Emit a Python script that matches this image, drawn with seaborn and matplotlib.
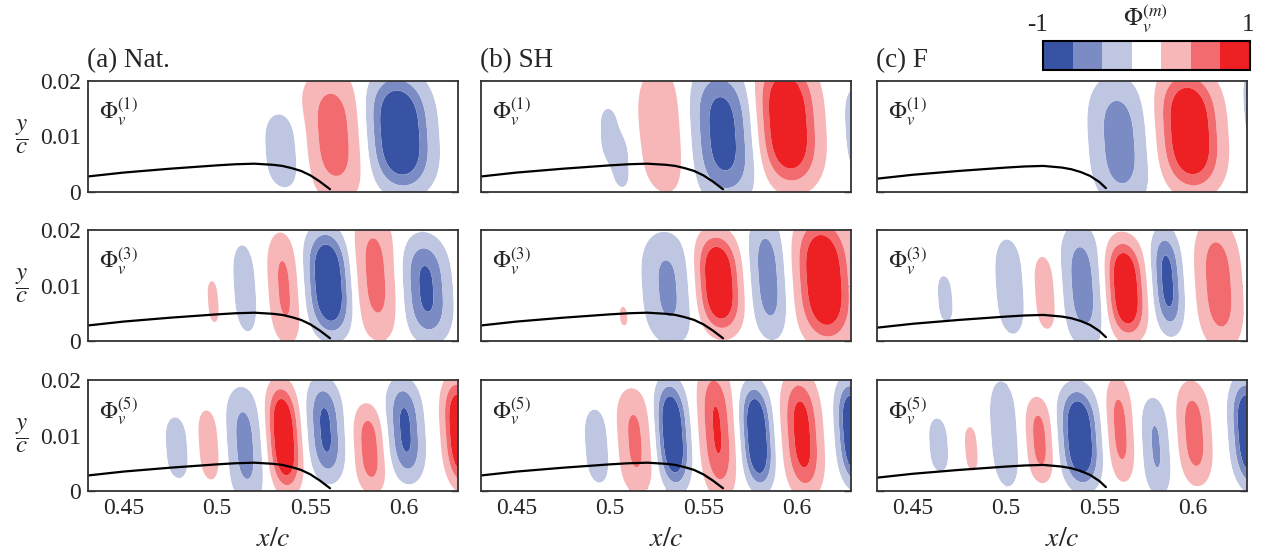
import numpy as np
import pandas as pd
import matplotlib
matplotlib.use("Agg")
import matplotlib.pyplot as plt
import matplotlib as mpl
from matplotlib.colors import ListedColormap, BoundaryNorm
from matplotlib.ticker import MultipleLocator, FixedLocator, FixedFormatter
import seaborn as sns

# ---------------- data ----------------
PANEL_TITLES = ["(a) Nat.", "(b) SH", "(c) F"]
MODE_LABELS = [r"$\Phi_v^{(1)}$", r"$\Phi_v^{(3)}$", r"$\Phi_v^{(5)}$"]
XTICKS = [0.45, 0.5, 0.55, 0.6]
XTICK_LABELS = ["0.45", "0.5", "0.55", "0.6"]
YTICKS = [0.0, 0.01, 0.02]
YTICK_LABELS = ["0", "0.01", "0.02"]
XLIM = (0.431, 0.629)
YLIM = (0.0, 0.02)

# contour levels and colours (7 bands from -1 to 1)
LEVELS = [-10, -5 / 7, -3 / 7, -1 / 7, 1 / 7, 3 / 7, 5 / 7, 10]
BAND_COLORS = ["#3953A4", "#7B8CC4", "#BEC6E2", "#FFFFFF",
               "#F7B6B8", "#F26B6F", "#ED2024"]

# wave-packet lobes of each mode: (x0, y0, sigma_x, sigma_y, amplitude)
NAT_1 = [(0.5358, 0.0075, 0.0080, 0.0060, -0.30),
         (0.5625, 0.0103, 0.0105, 0.0085, 0.60),
         (0.5977, 0.0107, 0.0103, 0.0075, -1.20),
         (0.6380, 0.0170, 0.0060, 0.0065, 0.40)]
NAT_3 = [(0.4980, 0.0071, 0.0033, 0.0042, 0.20),
         (0.5150, 0.0095, 0.0048, 0.0068, -0.30),
         (0.5360, 0.0095, 0.0055, 0.0074, 0.50),
         (0.5597, 0.0105, 0.0070, 0.0068, -1.20),
         (0.5848, 0.0118, 0.0075, 0.0085, 0.55),
         (0.6120, 0.0094, 0.0077, 0.0068, -0.80)]
NAT_5 = [(0.4786, 0.0078, 0.0047, 0.0048, -0.30),
         (0.4958, 0.0083, 0.0046, 0.0055, 0.30),
         (0.5150, 0.0082, 0.0062, 0.0076, -0.55),
         (0.5358, 0.0097, 0.0052, 0.0068, 1.20),
         (0.5581, 0.0110, 0.0058, 0.0065, -0.80),
         (0.5817, 0.0076, 0.0052, 0.0058, 0.60),
         (0.6008, 0.0110, 0.0058, 0.0065, -0.80),
         (0.6300, 0.0105, 0.0052, 0.0068, 1.20)]
SH_1 = [(0.5000, 0.0108, 0.0046, 0.0042, -0.24),
        (0.5060, 0.0050, 0.0046, 0.0042, -0.24),
        (0.5285, 0.0110, 0.0096, 0.0092, 0.35),
        (0.5604, 0.0105, 0.0106, 0.0086, -0.90),
        (0.5950, 0.0125, 0.0100, 0.0082, 1.20),
        (0.6320, 0.0110, 0.0050, 0.0066, -0.30)]
SH_3 = [(0.5074, 0.0045, 0.0025, 0.0020, 0.20),
        (0.5310, 0.0095, 0.0087, 0.0075, -0.50),
        (0.5582, 0.0105, 0.0072, 0.0064, 1.20),
        (0.5846, 0.0115, 0.0064, 0.0080, -0.60),
        (0.6145, 0.0110, 0.0090, 0.0080, 1.20)]
SH_5 = [(0.4932, 0.0081, 0.0052, 0.0058, -0.30),
        (0.5134, 0.0090, 0.0062, 0.0070, 0.50),
        (0.5335, 0.0102, 0.0052, 0.0068, -1.20),
        (0.5573, 0.0110, 0.0058, 0.0085, 0.76),
        (0.5787, 0.0099, 0.0050, 0.0066, -1.20),
        (0.6028, 0.0102, 0.0062, 0.0077, 0.90),
        (0.6300, 0.0105, 0.0050, 0.0066, -1.20)]
F_1 = [(0.5608, 0.0090, 0.0099, 0.0085, -0.60),
       (0.5984, 0.0110, 0.0100, 0.0077, 1.20),
       (0.6320, 0.0150, 0.0040, 0.0056, -0.30)]
F_3 = [(0.4675, 0.0076, 0.0040, 0.0043, -0.22),
       (0.5021, 0.0098, 0.0055, 0.0070, -0.35),
       (0.5211, 0.0087, 0.0048, 0.0058, 0.30),
       (0.5410, 0.0100, 0.0070, 0.0079, -0.60),
       (0.5640, 0.0095, 0.0062, 0.0063, 1.20),
       (0.5864, 0.0108, 0.0050, 0.0066, -0.85),
       (0.6138, 0.0102, 0.0075, 0.0084, 0.62)]
F_5 = [(0.4640, 0.0083, 0.0046, 0.0046, -0.25),
       (0.4815, 0.0076, 0.0040, 0.0045, 0.20),
       (0.4992, 0.0103, 0.0054, 0.0078, -0.35),
       (0.5180, 0.0092, 0.0047, 0.0056, 0.55),
       (0.5395, 0.0097, 0.0062, 0.0064, -1.20),
       (0.5611, 0.0111, 0.0046, 0.0068, 0.55),
       (0.5803, 0.0080, 0.0050, 0.0066, -0.47),
       (0.6007, 0.0104, 0.0056, 0.0067, 0.60),
       (0.6300, 0.0104, 0.0055, 0.0068, -1.20)]
LOBE_TILT = -0.2      # lobes lean upstream with height (dx/dy)
LOBE_Y_POWER = 3.0    # flattened vertical profile of each lobe

# separation-bubble / shape line
BUMP_X_AB = [0.431, 0.45, 0.475, 0.5, 0.51, 0.52, 0.53, 0.535, 0.54, 0.545, 0.55, 0.555, 0.5605]
BUMP_Y_AB = [0.0028, 0.0035, 0.0042, 0.0048, 0.0050, 0.0051, 0.0049, 0.0047, 0.0043, 0.0038,
             0.0030, 0.0019, 0.0005]
BUMP_X_C = [0.431, 0.45, 0.475, 0.5, 0.51, 0.52, 0.53, 0.535, 0.54, 0.545, 0.55, 0.5535]
BUMP_Y_C = [0.0024, 0.0031, 0.0038, 0.0044, 0.0046, 0.0047, 0.0044, 0.0041, 0.0036, 0.0029,
            0.0018, 0.0007]

MODES = [[NAT_1, SH_1, F_1], [NAT_3, SH_3, F_3], [NAT_5, SH_5, F_5]]
BUMPS = [(BUMP_X_AB, BUMP_Y_AB), (BUMP_X_AB, BUMP_Y_AB), (BUMP_X_C, BUMP_Y_C)]

# ---------------- style ----------------
sns.set_theme(style="ticks")
plt.rcParams["font.family"] = ["Liberation Serif", "DejaVu Serif"]
plt.rcParams["mathtext.fontset"] = "stix"
plt.rcParams["axes.edgecolor"] = "#333333"
plt.rcParams["axes.linewidth"] = 1.3

W, H = 1268, 560
fig = plt.figure(figsize=(W / 100, H / 100), dpi=100)

col_left = [88, 481, 877]
row_top = [81, 230, 380]
ax_w, ax_h = 370, 111

gx = np.linspace(XLIM[0], XLIM[1], 500)
gy = np.linspace(YLIM[0], YLIM[1], 160)
GX, GY = np.meshgrid(gx, gy)


def field(lobes):
    z = np.zeros_like(GX)
    for x0, y0, sx, sy, a in lobes:
        dx = GX - x0 - LOBE_TILT * (GY - y0)
        dy = GY - y0
        z += a * np.exp(-0.5 * (dx / sx) ** 2 - 0.5 * np.abs(dy / sy) ** LOBE_Y_POWER)
    return z


for r in range(3):
    for c in range(3):
        left = col_left[c] / W
        bottom = (H - row_top[r] - ax_h) / H
        ax = fig.add_axes([left, bottom, ax_w / W, ax_h / H])
        Z = field(MODES[r][c])
        ax.contourf(GX, GY, Z, levels=LEVELS, colors=BAND_COLORS, antialiased=True)
        bx, by = BUMPS[c]
        sns.lineplot(x=bx, y=by, ax=ax, color="black", linewidth=1.6, sort=False,
                     estimator=None)
        ax.set_xlim(*XLIM)
        ax.set_ylim(*YLIM)
        ax.xaxis.set_major_locator(FixedLocator(XTICKS))
        ax.xaxis.set_minor_locator(MultipleLocator(0.01))
        ax.yaxis.set_major_locator(FixedLocator(YTICKS))
        ax.yaxis.set_minor_locator(MultipleLocator(0.005))
        ax.tick_params(which="both", direction="in", top=True, right=True,
                       color="#333333", width=1.0, labelsize=17, pad=5)
        ax.tick_params(which="major", length=5)
        ax.tick_params(which="minor", length=3)
        if r == 2:
            ax.xaxis.set_major_formatter(FixedFormatter(XTICK_LABELS))
            ax.set_xlabel(r"$x/c$", fontsize=20, labelpad=6)
        else:
            ax.set_xticklabels([])
            ax.set_xlabel("")
        if c == 0:
            ax.yaxis.set_major_formatter(FixedFormatter(YTICK_LABELS))
            ax.set_ylabel(r"$\dfrac{y}{c}$", fontsize=18, rotation=0,
                          labelpad=13, va="center")
        else:
            ax.set_yticklabels([])
            ax.set_ylabel("")
        for s in ax.spines.values():
            s.set_color("#333333")
            s.set_linewidth(1.3)
        ax.text(0.03, 0.86, MODE_LABELS[r], transform=ax.transAxes,
                fontsize=17, ha="left", va="top")
        if r == 0:
            ax.text(-0.002, 1.075, PANEL_TITLES[c], transform=ax.transAxes,
                    fontsize=19.5, ha="left", va="bottom")

# colour bar
cax = fig.add_axes([1043 / W, (H - 70) / H, 207 / W, 29 / H])
cmap = ListedColormap(BAND_COLORS)
norm = BoundaryNorm(np.linspace(-1, 1, 8), cmap.N)
cb = mpl.colorbar.ColorbarBase(cax, cmap=cmap, norm=norm, orientation="horizontal")
cb.set_ticks([])
cax.minorticks_off()
cax.tick_params(which="both", length=0, labelbottom=False)
cb.outline.set_linewidth(1.5)
cb.outline.set_edgecolor("black")
fig.text(1037 / W, (H - 25) / H, "-1", fontsize=18, ha="center", va="center")
fig.text(1248 / W, (H - 25) / H, "1", fontsize=18, ha="center", va="center")
fig.text(1146 / W, (H - 18) / H, r"$\Phi_v^{(m)}$", fontsize=18, ha="center", va="center")

fig.savefig("out.png", dpi=100)
